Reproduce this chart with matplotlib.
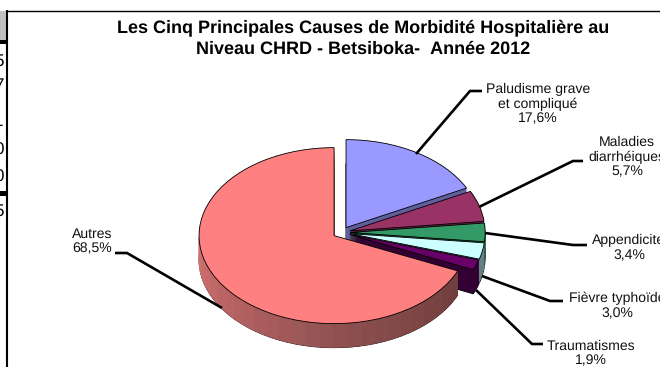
#!/usr/bin/env python
import numpy as np
import matplotlib
matplotlib.use("Agg")
import matplotlib.pyplot as plt
from matplotlib.colors import LinearSegmentedColormap
from matplotlib.lines import Line2D
from matplotlib.patches import Rectangle, Wedge

plt.rcParams['font.family'] = ['Liberation Sans', 'DejaVu Sans']
plt.rcParams['text.hinting'] = 'no_hinting'
plt.rcParams['text.hinting_factor'] = 1

causes = ['Paludisme grave\net compliqué', 'Maladies\ndiarrhéiques', 'Appendicite',
          'Fièvre typhoïde', 'Traumatismes', 'Autres']
percent = [17.6, 5.7, 3.4, 3.0, 1.9, 68.5]
top_colors = ['#9999FF', '#993366', '#339966', '#CCFFFF', '#660066', '#FF8080']
side_colors = ['#60609F', '#5E2040', '#1F5F3F', '#648080', '#330033', '#A85858']

W, H = 660, 367
fig = plt.figure(figsize=(W / 100, H / 100), dpi=100)


def px_x(x):
    return x / W


def px_y(y):
    return 1 - y / H


def seg(xs, ys, lw=1.9):
    fig.add_artist(Line2D([px_x(v) for v in xs], [px_y(v) for v in ys], color='black',
                          lw=lw, solid_capstyle='butt', solid_joinstyle='miter'))


# bout du tableau excel coupé a gauche
fig.add_artist(Rectangle((0, px_y(40)), px_x(6), px_y(11) - px_y(40), color='#C0C0C0', lw=0))
fig.add_artist(Rectangle((0, px_y(44)), px_x(6), px_y(40) - px_y(44), color='black', lw=0))
fig.add_artist(Rectangle((0, px_y(196)), px_x(6), px_y(191) - px_y(196), color='black', lw=0))
for row_y, digit in zip([61, 86, 122, 150, 177, 211], ['5', '7', '1', '0', '0', '5']):
    fig.text(px_x(3.5), px_y(row_y), digit, ha='right', va='center', fontsize=12, color='black')
seg([7, 7], [10, 367], lw=1.5)
seg([6, 660], [11, 11], lw=1.0)

# le camembert : 1 unite = 135 px en x, 88 px en y
rx, ry = 135, 88
cx, cy = 341.4, 232.5
depth = 24 / ry
xlim = 1.3
ylim_top, ylim_bot = 1.3, 1.7
ax = fig.add_axes([px_x(cx - xlim * rx), px_y(cy + ylim_bot * ry),
                   2 * xlim * rx / W, (ylim_top + ylim_bot) * ry / H])
explode = [0.065] * len(percent)

# degrade sur le flanc de "Autres" (clair a gauche, sombre a droite)
side_shade = LinearSegmentedColormap.from_list('flanc', [(0, '#DC7676'), (0.58, '#8C5050'),
                                                         (1, '#6A3C3C')])

for d in np.arange(depth, 0, -0.5 / ry):
    wedges, _ = ax.pie(percent, colors=side_colors, explode=explode, startangle=90,
                       counterclock=False, center=(0, -d), radius=1,
                       wedgeprops=dict(edgecolor='black' if d == depth else 'none', linewidth=0.7))
    for w in wedges:
        w.set_clip_on(False)
    red = wedges[-1]
    end_angle = red.theta2 % 360
    step = 6
    for a in np.arange(180, end_angle, step):
        a2 = min(a + step, end_angle)
        shade = side_shade((a - 180) / (end_angle - 180))
        ax.add_patch(Wedge(red.center, 1, a, a2, facecolor=shade, edgecolor=shade,
                           linewidth=0.3, clip_on=False))

wedges, _ = ax.pie(percent, colors=top_colors, explode=explode, startangle=90,
                   counterclock=False, center=(0, 0), radius=1,
                   wedgeprops=dict(edgecolor='black', linewidth=0.6))
ax.set_aspect('auto')
ax.set_xlim(-xlim, xlim)
ax.set_ylim(-ylim_bot, ylim_top)
ax.axis('off')

# titre
fig.text(px_x(363), px_y(28), 'Les Cinq Principales Causes de Morbidité Hospitalière au',
         ha='center', va='center', fontsize=13, fontweight='bold')
fig.text(px_x(363), px_y(49), 'Niveau CHRD - Betsiboka-  Année 2012',
         ha='center', va='center', fontsize=13, fontweight='bold')

# etiquettes
label_pos = [(538, 104), (627, 157), (629, 248), (617, 306), (591, 353), (92, 241)]
leaders = [([416, 470, 482], [154, 91, 91]),
           ([479, 573, 583], [207, 161, 161]),
           ([485, 573, 587], [233, 245, 245]),
           ([482, 550, 563], [276, 301, 301]),
           ([476, 532, 543], [290, 344, 344]),
           ([222, 127, 115], [308, 253, 253])]

for name, val, (lx, ly), (xs, ys) in zip(causes, percent, label_pos, leaders):
    txt = name + '\n' + f'{val:.1f}'.replace('.', ',') + '%'
    fig.text(px_x(lx), px_y(ly), txt, ha='center', va='center', fontsize=10,
             linespacing=1.12, color='#111111')
    seg(xs, ys)

fig.savefig('out.png', dpi=100)
